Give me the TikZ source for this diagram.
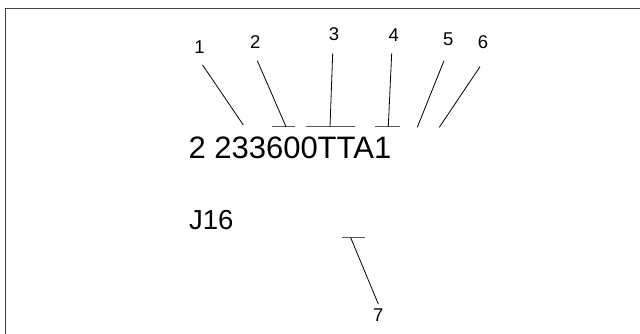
\documentclass[tikz,border=0pt]{standalone}
\usepackage{fontspec}
\setmainfont{Liberation Sans}
\begin{document}
\begin{tikzpicture}[x=1pt,y=-1pt,
  lbl/.style={inner sep=0pt,font=\fontsize{18.5}{18.5}\selectfont},
  big/.style={inner sep=0pt,anchor=base west,font=\fontsize{31}{31}\selectfont},
  mid/.style={inner sep=0pt,anchor=base west,font=\fontsize{27.5}{27.5}\selectfont},
  leader/.style={line width=0.8pt,black},
  bar/.style={line width=1.3pt,black!65}]
\useasboundingbox (0,0) rectangle (640,334);
\fill[white] (0,0) rectangle (640,334);
% frame (top and left)
\draw[line width=1.4pt,black!75] (5.7,334) -- (5.7,8.7) -- (640,8.7);
% texts
\node[big] (code) at (188.3,158.3) {2 233600TTA1};
\node[mid] (j16) at (189,229.3) {J16};
% labels
\node[lbl] (l1) at (199.5,47.3) {1};
\node[lbl] (l2) at (255.3,41.7) {2};
\node[lbl] (l3) at (334,34.5) {3};
\node[lbl] (l4) at (393.8,35) {4};
\node[lbl] (l5) at (448.3,39.7) {5};
\node[lbl] (l6) at (483,42.5) {6};
\node[lbl] (l7) at (378.3,315) {7};
% coordinates
\coordinate (e1) at (243.3,125);
\coordinate (e2) at (286,126.7);
\coordinate (b2a) at (271.7,126.7);
\coordinate (b2b) at (295,126.7);
\coordinate (e3) at (330,126.7);
\coordinate (b3a) at (306,126.7);
\coordinate (b3b) at (355,126.7);
\coordinate (e4) at (388.3,126.3);
\coordinate (b4a) at (375,126.3);
\coordinate (b4b) at (400,126.3);
\coordinate (e5) at (417.3,127.3);
\coordinate (e6) at (439.3,127.3);
\coordinate (e7) at (350.7,237.7);
\coordinate (b7a) at (341.7,237.7);
\coordinate (b7b) at (365,237.7);
% bars
\draw[bar] (b2a) -- (b2b);
\draw[bar] (b3a) -- (b3b);
\draw[bar] (b4a) -- (b4b);
\draw[bar] (b7a) -- (b7b);
% leaders
\draw[leader] ([yshift=-11pt]l1.south) ++(3,0) -- (e1);
\draw[leader] (257.3,60.7) coordinate (s2) -- (e2);
\draw[leader] (332.7,53.3) coordinate (s3) -- (e3);
\draw[leader] (391.7,53.3) coordinate (s4) -- (e4);
\draw[leader] (444,60.7) coordinate (s5) -- (e5);
\draw[leader] (480,66.7) coordinate (s6) -- (e6);
\draw[leader] (e7) -- (378.3,304) coordinate (s7);
\end{tikzpicture}
\end{document}
